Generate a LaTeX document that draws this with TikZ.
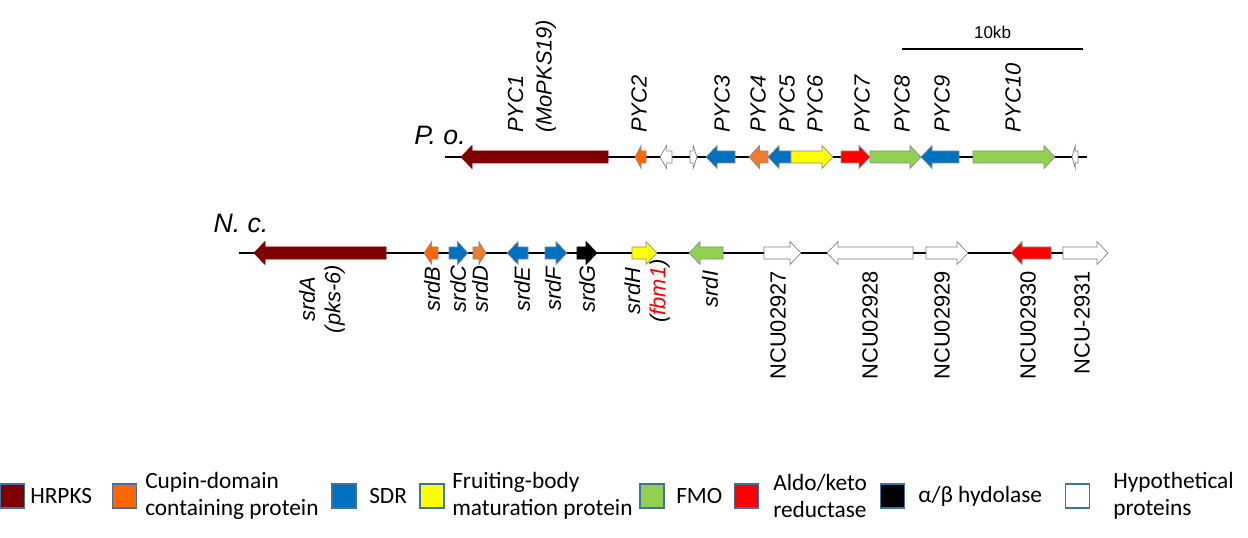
\documentclass[tikz,border=0pt]{standalone}
\usepackage{fontspec}
\setmainfont{Liberation Sans}
\newfontfamily\legendfont{Carlito}
\usepackage{tikz}
\usetikzlibrary{positioning}
\definecolor{hrpks}{HTML}{7F0000}
\definecolor{cupin}{HTML}{FF6600}
\definecolor{cupinlt}{HTML}{ED7D31}
\definecolor{sdr}{HTML}{0070C0}
\definecolor{fbm}{HTML}{FFFF00}
\definecolor{fmo}{HTML}{92D050}
\definecolor{akr}{HTML}{FF0000}
\definecolor{keyline}{HTML}{41719C}
\newcommand{\genearrow}[4]{%
  \pgfmathsetmacro{\gd}{ifthenelse(#2>#1,1,-1)}%
  \pgfmathsetmacro{\gh}{min(11,0.55*abs(#2-#1))}%
  \pgfmathsetmacro{\gn}{#2-\gd*\gh}%
  \draw[gene,#4] (#1,#3-6) -- (\gn,#3-6) -- (\gn,#3-11.5) -- (#2,#3)
    -- (\gn,#3+11.5) -- (\gn,#3+6) -- (#1,#3+6) -- cycle;}
\begin{document}
\begin{tikzpicture}[x=0.75pt,y=-0.75pt]
      \tikzstyle{gene}=[line width=0.5pt,line join=miter]
      \tikzstyle{pk}=[fill=hrpks,draw=hrpks]
      \tikzstyle{cu}=[fill=cupin,draw=black!45]
      \tikzstyle{cl}=[fill=cupinlt,draw=black!45]
      \tikzstyle{sd}=[fill=sdr,draw=black!45]
      \tikzstyle{fb}=[fill=fbm,draw=black!45]
      \tikzstyle{fm}=[fill=fmo,draw=black!45]
      \tikzstyle{ak}=[fill=akr,draw=black!45]
      \tikzstyle{hy}=[fill=black,draw=black]
      \tikzstyle{hp}=[fill=white,draw=black!50]
      \tikzstyle{track}=[line width=1.5pt]
      \tikzstyle{up}=[rotate=90,anchor=west,inner sep=0pt,align=left,font=\fontsize{16.4}{21.5}\selectfont\itshape]
      \tikzstyle{dn}=[rotate=90,inner sep=0pt,align=center,font=\fontsize{16.4}{19}\selectfont\itshape]
      \tikzstyle{ncu}=[rotate=90,anchor=east,inner sep=0pt,font=\fontsize{16.4}{19}\selectfont]
      \tikzstyle{key}=[draw=keyline,line width=0.9pt,minimum size=18pt,inner sep=0pt]
      \tikzstyle{keytext}=[anchor=west,inner sep=0pt,align=left,font=\legendfont\fontsize{17.5}{20.5}\selectfont]
      \useasboundingbox (0,0) rectangle (1248,538);
      \node[font=\fontsize{20}{24}\selectfont\itshape] (po) at (440,135) {P. o.};
      \node[font=\fontsize{20}{24}\selectfont\itshape] (nc) at (241,223) {N. c.};
      \coordinate (po-a) at (445,157);
      \coordinate (po-b) at (1087,157);
      \coordinate (nc-a) at (239,253);
      \coordinate (nc-b) at (1063,253);
      \draw[track] (po-a) -- (po-b);
      \draw[track] (nc-a) -- (nc-b);
      \coordinate (bar-a) at (902,49);
      \coordinate (bar-b) at (1083,49);
      \draw[line width=1pt] (bar-a) -- node[above=4pt,font=\fontsize{12.8}{15}\selectfont] (kb) {10kb} (bar-b);
      \foreach \s/\t/\c in {608/461/pk,646/635/cu,672/660/hp,690/697/hp,735/706/sd,768/749/cl,791/768/sd,
        791/833/fb,841/870/ak,870/921/fm,959/921/sd,973/1055/fm,1078/1072/hp}
        {\genearrow{\s}{\t}{157}{\c}}
      \foreach \s/\t/\c in {386/254/pk,438/424/cu,449/468/sd,473/486/cl,528/507/sd,545/567/sd,577/597/hy,
        632/657/fb,723/689/fm,764/801/hp,913/827/hp,926/968/hp,1051/1011/ak,1063/1108/hp}
        {\genearrow{\s}{\t}{253}{\c}}
      \node[up] (pyc1) at (532,133) {PYC1\\(MoPKS19)};
      \foreach \x/\n in {639/2,722/3,758/4,787/5,815/6,862/7,902/8,942/9,1013/10}
        \node[up] (pyc\n) at (\x,133) {PYC\n};
      \node[dn] (srdA) at (322,299) {srdA\\(pks-6)};
      \foreach \x/\n in {432/B,458/C,480/D,522/E,553/F,587/G,710/I}
        \node[dn] (srd\n) at (\x,289) {srd\n};
      \node[dn] (srdH) at (647,291) {srdH\\(\textcolor{red}{fbm1})};
      \foreach \x/\n in {778/NCU02927,870/NCU02928,942/NCU02929,1028/NCU02930,1082/NCU-2931}
        \node[ncu] (\n) at (\x,271) {\n};
      \node[key,fill=hrpks] (k1) at (12.5,496) {};
      \node[keytext] (t1) at (30,496) {HRPKS};
      \node[key,fill=cupin] (k2) at (124.5,496) {};
      \node[keytext] (t2) at (145,496) {Cupin-domain\\containing protein};
      \node[key,fill=sdr] (k3) at (344,496) {};
      \node[keytext] (t3) at (369,496) {SDR};
      \node[key,fill=fbm] (k4) at (432,496) {};
      \node[keytext] (t4) at (452,496) {Fruiting-body\\maturation protein};
      \node[key,fill=fmo] (k5) at (652,496) {};
      \node[keytext] (t5) at (676,496) {FMO};
      \node[key,fill=akr] (k6) at (746.5,496) {};
      \node[keytext] (t6) at (773,496) {Aldo/keto\\reductase};
      \node[key,fill=black] (k7) at (892.5,496) {};
      \node[keytext] (t7) at (918,496) {α/β hydolase};
      \node[key,fill=white] (k8) at (1077.5,496) {};
      \node[keytext] (t8) at (1113,496) {Hypothetical\\proteins};
    \end{tikzpicture}
\end{document}
